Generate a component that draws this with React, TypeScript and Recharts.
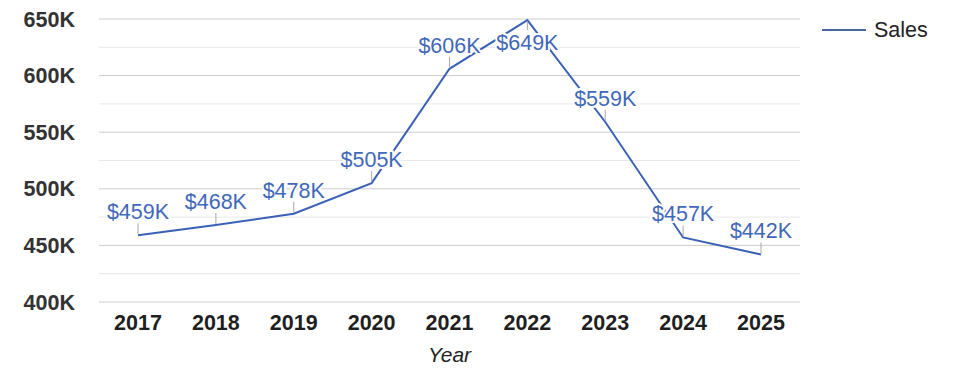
import React from "react";
import {
  LineChart,
  Line,
  XAxis,
  YAxis,
  CartesianGrid,
  ReferenceLine,
  LabelList,
} from "recharts";

const years = ["2017", "2018", "2019", "2020", "2021", "2022", "2023", "2024", "2025"];
const sales = [459, 468, 478, 505, 606, 649, 559, 457, 442];
const yTicks = [400, 450, 500, 550, 600, 650];
const minorTicks = [425, 475, 525, 575, 625];

const data = years.map((year, i) => ({ year, sales: sales[i] }));
const maxSales = Math.max(...sales);

const FONT = '"Liberation Sans", Arial, sans-serif';
const LINE_COLOR = "#3a61b6";
const LABEL_COLOR = "#3f68ba";

function PointLabel(props: any) {
  const { x, y, value } = props;
  if (x == null || y == null) return null;
  const below = value === maxSales;
  const text = `$${value}K`;
  return (
    <g>
      <line
        x1={x}
        x2={x}
        y1={below ? y + 1 : y - 1}
        y2={below ? y + 10 : y - 12}
        stroke="#a8a8a8"
        strokeWidth={1}
      />
      <text
        x={x}
        y={below ? y + 30 : y - 16}
        textAnchor="middle"
        fontFamily={FONT}
        fontSize={21.5}
        fill={LABEL_COLOR}
        stroke="#ffffff"
        strokeWidth={4}
        strokeLinejoin="round"
        paintOrder="stroke"
      >
        {text}
      </text>
    </g>
  );
}

function SalesLegend() {
  return (
    <div
      style={{
        position: "absolute",
        left: 822,
        top: 18,
        display: "flex",
        alignItems: "center",
        fontFamily: FONT,
      }}
    >
      <span
        style={{
          display: "inline-block",
          width: 44,
          height: 0,
          borderTop: "2px solid #4a6799",
          marginRight: 8,
        }}
      />
      <span style={{ fontSize: 21.5, color: "#222", lineHeight: "24px" }}>Sales</span>
    </div>
  );
}

export default function App() {
  return (
    <div style={{ position: "absolute", left: 0, top: 0, width: 975, height: 378, background: "#fff" }}>
      <LineChart
        width={975}
        height={378}
        data={data}
        margin={{ top: 19, right: 175, bottom: 0, left: 0 }}
      >
        <CartesianGrid vertical={false} stroke="#cccccc" horizontalValues={yTicks} />
        {minorTicks.map((v) => (
          <ReferenceLine key={v} y={v} stroke="#e8e8e8" strokeWidth={1} />
        ))}
        <XAxis
          dataKey="year"
          height={76}
          padding={{ left: 39, right: 39 }}
          axisLine={false}
          tickLine={false}
          tickSize={0}
          tickMargin={13}
          tick={{ fontFamily: FONT, fontSize: 21.5, fontWeight: 700, fill: "#1f1f1f" }}
          label={{
            value: "Year",
            position: "insideBottom",
            offset: 16,
            fontFamily: FONT,
            fontSize: 21,
            fontStyle: "italic",
            fill: "#222",
          }}
        />
        <YAxis
          width={99}
          domain={[400, 650]}
          ticks={yTicks}
          axisLine={false}
          tickLine={false}
          tickSize={0}
          tickMargin={24}
          tickFormatter={(v) => `${v}K`}
          tick={{ fontFamily: FONT, fontSize: 21.5, fontWeight: 700, fill: "#333" }}
        />
        <Line
          type="linear"
          dataKey="sales"
          stroke={LINE_COLOR}
          strokeWidth={2}
          dot={false}
          activeDot={false}
          isAnimationActive={false}
        >
          <LabelList dataKey="sales" content={<PointLabel />} />
        </Line>
      </LineChart>
      <SalesLegend />
    </div>
  );
}
